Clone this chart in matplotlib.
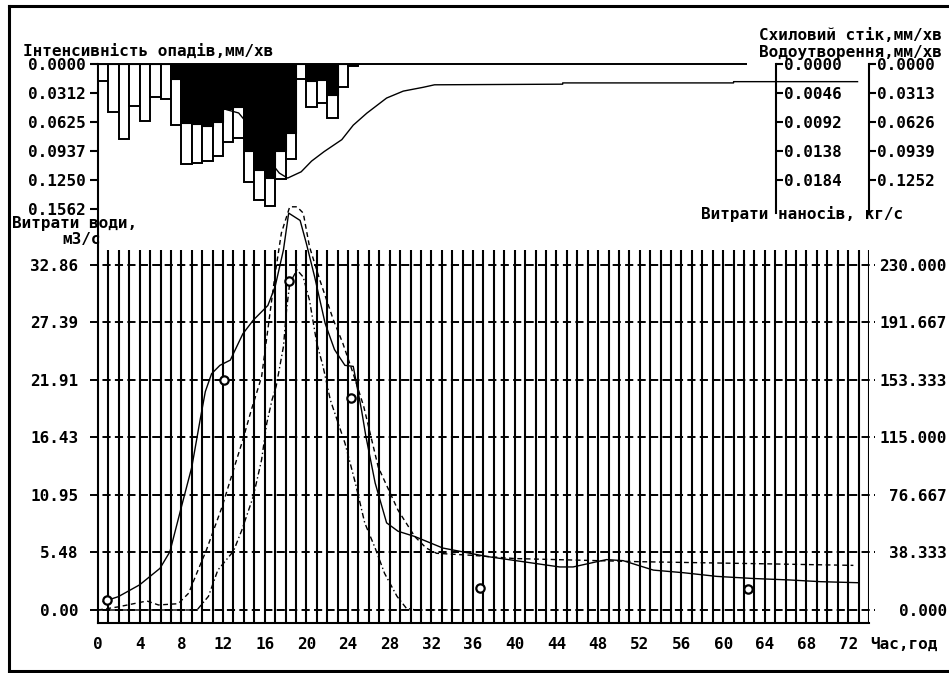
import matplotlib
matplotlib.use('Agg')
import matplotlib.pyplot as plt
import numpy as np
from matplotlib.lines import Line2D

plt.rcParams['font.family'] = ['DejaVu Sans Mono']
plt.rcParams['font.weight'] = 'bold'
plt.rcParams['font.size'] = 11.5

# --- data ---
# hourly bars of the upper panel (hour 0..24, bar i covers i..i+1)
rain_hours = np.arange(25)
rain = [0.0180, 0.0521, 0.0808, 0.0456, 0.0618, 0.0359, 0.0377, 0.0654,
        0.1078, 0.1067, 0.1042, 0.0995, 0.0844, 0.0797, 0.1268, 0.1462,
        0.1527, 0.1239, 0.1024, 0.0162, 0.0460, 0.0424, 0.0585, 0.0244,
        0.0018]
water_yield = [0, 0, 0, 0, 0, 0, 0, 0.0162,
               0.0636, 0.0647, 0.0665, 0.0629, 0.0485, 0.0467, 0.0941, 0.1149,
               0.1228, 0.0941, 0.0744, 0, 0.0180, 0.0172, 0.0334, 0,
               0.0012]

# slope runoff (upper panel thin line), mm/min
runoff_t = [0, 7, 8, 10, 11, 12.35, 13.5, 14.3, 15.3, 16.3, 17.4, 18.2, 19.5,
            20.5, 21.7, 23.4, 24.5, 25.8, 27.7, 29.3, 31.2, 32.3, 44.6, 44.6,
            61.0, 61.0, 72.9]
runoff = [0, 0, 0.0010, 0.0040, 0.0055, 0.00725, 0.00777, 0.00936, 0.0125,
          0.0150, 0.0173, 0.0181, 0.0171, 0.0154, 0.0139, 0.0120, 0.0097,
          0.0078, 0.0054, 0.0043, 0.0037, 0.0033, 0.0032, 0.0030,
          0.0030, 0.0028, 0.0028]

# water discharge, m3/s (solid line)
q_t = [0.5, 1.95, 4.0, 5.95, 6.9, 8.0, 9.0, 9.8, 10.3, 10.9, 11.7, 12.7,
       13.9, 14.9, 16.3, 17.0, 17.8, 18.3, 19.4, 20.0, 20.8, 21.8, 22.7,
       23.7, 24.5, 25.3, 25.7, 26.6, 27.7, 28.8, 30.4, 33.1, 37.3, 41.5,
       44.3, 45.6, 48.8, 50.4, 53.3, 56.2, 59.4, 62.9, 66.4, 69.3, 72.9]
q = [0.8, 1.27, 2.4, 3.97, 5.55, 9.8, 13.6, 18.1, 20.8, 22.5, 23.3, 23.8,
     26.3, 27.6, 29.0, 30.8, 34.3, 37.8, 37.1, 34.9, 31.7, 27.3, 24.8,
     23.3, 23.2, 19.0, 16.6, 12.1, 8.3, 7.5, 7.0, 5.9, 5.1, 4.5,
     4.1, 4.1, 4.8, 4.7, 3.8, 3.55, 3.2, 3.0, 2.86, 2.7, 2.6]

# computed discharge (dashed)
qa_t = [0, 1.95, 4.7, 5.8, 7.7, 8.7, 9.6, 10.4, 11.9, 12.8, 13.9, 14.7,
        15.7, 16.3, 17.0, 17.6, 18.4, 19.1, 19.7, 20.3, 21.3, 22.6, 23.5,
        24.5, 25.5, 26.9, 28.8, 30.4, 31.5, 32.5, 36, 40, 46, 52, 58, 64,
        72.5]
qa = [0, 0.3, 0.86, 0.48, 0.6, 1.6, 3.8, 5.7, 9.8, 12.7, 16.2, 19.0,
      22.2, 26.7, 32.0, 35.9, 38.4, 38.4, 37.8, 34.6, 31.4, 27.6, 25.4,
      22.5, 19.4, 13.6, 9.5, 7.0, 5.9, 5.4, 5.2, 4.9, 4.75, 4.6, 4.5, 4.4,
      4.25]

# sediment discharge (dash-dot), drawn in m3/s units of the left axis
qb_t = [0, 9.5, 10.6, 11.5, 13.0, 13.8, 14.9, 15.7, 16.2, 16.7, 17.1, 17.8,
        18.1, 18.4, 19.1, 19.7, 20.3, 21.0, 21.6, 22.3, 23.7, 24.7, 25.6,
        26.6, 27.5, 28.7, 29.6, 30.5, 36]
qb = [0, 0, 1.3, 3.8, 5.6, 7.6, 10.8, 14.3, 17.8, 20.0, 21.3, 25.1,
      28.6, 31.1, 32.4, 31.7, 29.5, 25.4, 23.2, 20.0, 15.9, 12.1, 8.3,
      5.9, 3.5, 1.3, 0.16, 0, 0]

# observed points
obs_t = [0.83, 12.1, 18.3, 24.3, 36.7, 62.4]
obs_q = [0.95, 21.9, 31.3, 20.2, 2.1, 2.0]

q_ticks = [0, 5.4767, 10.9533, 16.43, 21.9067, 27.3833, 32.86]
q_labels = ['0.00', '5.48', '10.95', '16.43', '21.91', '27.39', '32.86']
sed_ticks = [0, 38.333, 76.667, 115.0, 153.333, 191.667, 230.0]
rain_ticks = [0, 0.0312, 0.0625, 0.0937, 0.1250, 0.1562]
runoff_ticks = [0, 0.0046, 0.0092, 0.0138, 0.0184]
yield_ticks = [0, 0.0313, 0.0626, 0.0939, 0.1252]
hour_ticks = list(range(0, 73, 4))

W, H = 949, 673
fig = plt.figure(figsize=(W / 100, H / 100), dpi=100)

# lower panel
ax = fig.add_axes([98 / W, 50 / H, 771 / W, 559 / H])
ax.set_xlim(0, 74)
ax.set_ylim(-1.238, 52.0)
for s in ['top', 'right']:
    ax.spines[s].set_visible(False)
for s in ['left', 'bottom']:
    ax.spines[s].set_linewidth(1.5)

top_grid = 34.29
ax.vlines(np.arange(1, 75), -1.238, top_grid, color='black', lw=1.5)
ax.hlines(q_ticks, -0.77, 74.6, color='black', lw=1.4,
          linestyles=(0, (4.2, 2.2)), clip_on=False)

ax.plot(q_t, q, color='black', lw=1.0)
ax.plot(qa_t, qa, color='black', lw=1.0, dashes=(3.5, 2.5))
ax.plot(qb_t, qb, color='black', lw=1.0, dashes=(4, 2, 1, 2))
ax.plot(obs_t, obs_q, 'o', ms=6, mfc='white', mec='black', mew=1.6)

ax.set_yticks(q_ticks)
ax.set_yticklabels(q_labels)
ax.set_xticks(hour_ticks)
ax.tick_params(axis='both', length=0)
ax.tick_params(axis='y', pad=14)
ax.tick_params(axis='x', pad=10)

ax_n = ax.twinx()
k = 230.0 / 32.86
ax_n.set_ylim(-1.238 * k, 52.0 * k)
for s in ax_n.spines.values():
    s.set_visible(False)
ax_n.set_yticks(sed_ticks)
ax_n.set_yticklabels(['%.3f' % v for v in sed_ticks])
ax_n.tick_params(axis='y', length=0, pad=56)
for lab in ax_n.get_yticklabels():
    lab.set_horizontalalignment('right')

# upper panel
axr = fig.add_axes([98 / W, 460 / H, 771 / W, 149 / H])
axr.patch.set_visible(False)
axr.set_xlim(0, 74)
axr.set_ylim(149 / 928, 0)
for s in axr.spines.values():
    s.set_visible(False)
axr.set_xticks([])
axr.set_yticks(rain_ticks)
axr.set_yticklabels(['%.4f' % v for v in rain_ticks])
axr.tick_params(axis='y', length=6, width=1.5, pad=2.5)
axr.bar(rain_hours, rain, width=1, align='edge', facecolor='white',
        edgecolor='black', lw=1.4)
axr.hlines(0, 0, 62.3, color='black', lw=1.4, clip_on=False)

ax_sc = axr.twinx()
ax_sc.set_xlim(0, 74)
ax_sc.set_ylim(149 / 6304, 0)
for s in ['top', 'left', 'bottom']:
    ax_sc.spines[s].set_visible(False)
ax_sc.spines['right'].set_position(('axes', 678 / 771))
ax_sc.spines['right'].set_linewidth(1.5)
ax_sc.set_yticks(runoff_ticks)
ax_sc.set_yticklabels(['%.4f' % v for v in runoff_ticks])
ax_sc.tick_params(axis='y', length=5, width=1.5, pad=0.5)
ax_sc.plot(runoff_t, runoff, color='black', lw=1.0)

ax_wy = axr.twinx()
ax_wy.set_xlim(0, 74)
ax_wy.set_ylim(149 / 926.5, 0)
for s in ['top', 'left', 'bottom']:
    ax_wy.spines[s].set_visible(False)
ax_wy.spines['right'].set_linewidth(1.5)
ax_wy.set_yticks(yield_ticks)
ax_wy.set_yticklabels(['%.4f' % v for v in yield_ticks])
ax_wy.tick_params(axis='y', length=5, width=1.5, pad=0.5)
ax_wy.bar(rain_hours, water_yield, width=1, align='edge', color='black',
          edgecolor='black', lw=0.8)

# texts
def fx(px):
    return px / W

def fy(py):
    return 1 - py / H

fig.text(fx(23), fy(51), 'Інтенсивність опадів,мм/хв', ha='left', va='center')
fig.text(fx(942), fy(36), 'Схиловий стік,мм/хв', ha='right', va='center')
fig.text(fx(942), fy(52), 'Водоутворення,мм/хв', ha='right', va='center')
fig.text(fx(12), fy(224), 'Витрати води,', ha='left', va='center')
fig.text(fx(101), fy(239), 'м3/с', ha='right', va='center')
fig.text(fx(802), fy(214), 'Витрати наносів, кг/с', ha='center', va='center')
fig.text(fx(870), fy(644), 'Час,год', ha='left', va='center')

# outer frame (left, top and bottom edges; the right edge lies off the picture)
x0, x1 = 8.7 / W, 1.0
y_top, y_bot = fy(5.5), fy(671.3)
for xs, ys in [([x0, x0], [y_bot, y_top]), ([x0, x1], [y_top, y_top]),
               ([x0, x1], [y_bot, y_bot])]:
    fig.add_artist(Line2D(xs, ys, transform=fig.transFigure, color='black',
                          lw=2.2, solid_capstyle='projecting'))

fig.savefig('out.png', dpi=100)
